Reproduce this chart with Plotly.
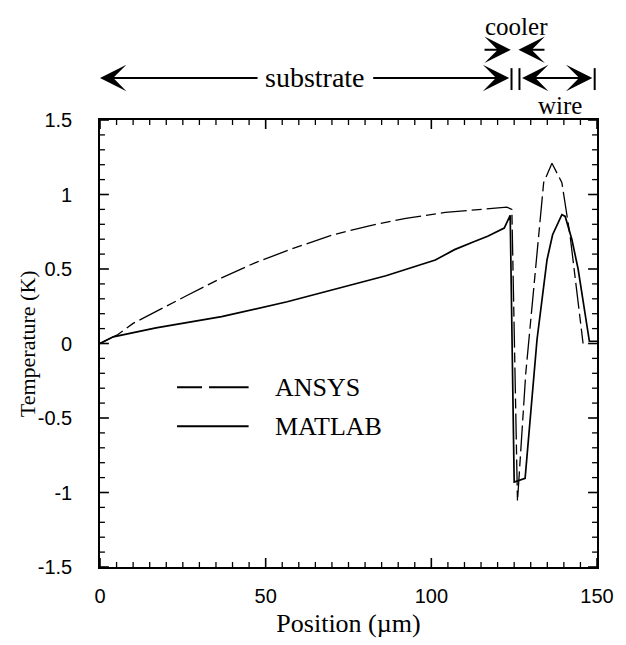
import plotly.graph_objects as go

# ANSYS (dashed) series
ansys_x = [0, 5.4, 10, 16.9, 25.8, 36.7, 46.6, 58.5, 70.4, 81.3, 92.3, 104.2, 114, 122.8, 124.3, 126, 128.5, 131.4, 133.9, 136.4, 139.4, 141.9, 143.6, 145.8]
ansys_t = [0, 0.06, 0.135, 0.216, 0.317, 0.44, 0.54, 0.64, 0.73, 0.79, 0.84, 0.88, 0.90, 0.915, 0.90, -1.06, -0.2, 0.47, 1.08, 1.21, 1.08, 0.72, 0.40, 0.0]

# MATLAB (solid) series
matlab_x = [0, 4, 16.9, 36.7, 56.5, 71.4, 86.3, 101.2, 107, 113, 117, 122, 123.8, 125, 128.3, 131.9, 134.9, 136.6, 139.4, 140.4, 142.4, 144.3, 147.7, 150]
matlab_t = [0, 0.045, 0.105, 0.18, 0.28, 0.37, 0.455, 0.56, 0.63, 0.685, 0.72, 0.775, 0.86, -0.93, -0.905, 0.027, 0.56, 0.73, 0.865, 0.853, 0.70, 0.50, 0.015, 0.015]

x_ticks = [0, 50, 100, 150]
x_ticktext = ["0", "50", "100", "150"]
y_ticks = [-1.5, -1, -0.5, 0, 0.5, 1, 1.5]
y_ticktext = ["-1.5", "-1", "-0.5", "0", "0.5", "1", "1.5"]
x_minor_step = 5
y_minor_step = 0.1

serif = "Liberation Serif, Times New Roman, serif"
sans = "Liberation Sans, Arial, sans-serif"

W, H = 626, 645
ML, MR, MT, MB = 100, 24, 120, 77
PW, PH = W - ML - MR, H - MT - MB

fig = go.Figure()
# ANSYS drawn on the overlaid (top/right) axes, which share exactly the same ranges
fig.add_trace(go.Scatter(x=ansys_x, y=ansys_t, mode="lines", name="ANSYS",
                         xaxis="x2", yaxis="y2",
                         line=dict(color="black", width=1.3, dash="26px,5px,10px,5px")))
fig.add_trace(go.Scatter(x=matlab_x, y=matlab_t, mode="lines", name="MATLAB",
                         line=dict(color="black", width=1.7)))

base = dict(showgrid=False, zeroline=False, ticks="", showline=True, linecolor="black", linewidth=1.6)

fig.update_layout(
    xaxis=dict(range=[0, 150], tickmode="array", tickvals=x_ticks, ticktext=x_ticktext,
               tickfont=dict(family=sans, size=20, color="black"),
               title=dict(text="Position (µm)", font=dict(family=serif, size=26, color="black"), standoff=8),
               ticklabelstandoff=10, **base),
    yaxis=dict(range=[-1.5, 1.5], tickmode="array", tickvals=y_ticks, ticktext=y_ticktext,
               tickfont=dict(family=sans, size=20, color="black"),
               ticklabelstandoff=22, **base),
    xaxis2=dict(range=[0, 150], overlaying="x", side="top", anchor="y2",
                showticklabels=False, **base),
    yaxis2=dict(range=[-1.5, 1.5], overlaying="y", side="right", anchor="x2",
                showticklabels=False, **base),
)

shapes = []
# Tick marks on all four sides (inside), placed at axis values
def is_major(v, majors):
    return any(abs(v - m) < 1e-6 for m in majors)

n_x = int(round(150 / x_minor_step))
for i in range(n_x + 1):
    v = i * x_minor_step
    major = is_major(v, x_ticks)
    frac = (9 if major else 5) / PH
    for y0, y1 in [(0, frac), (1, 1 - frac)]:
        shapes.append(dict(type="line", xref="x", yref="paper", x0=v, x1=v, y0=y0, y1=y1,
                           line=dict(color="black", width=1.6 if major else 1.3)))
n_y = int(round(3 / y_minor_step))
for i in range(n_y + 1):
    v = -1.5 + i * y_minor_step
    major = is_major(v, y_ticks)
    frac = (9 if major else 5) / PW
    for x0, x1 in [(0, frac), (1, 1 - frac)]:
        shapes.append(dict(type="line", xref="paper", yref="y", x0=x0, x1=x1, y0=v, y1=v,
                           line=dict(color="black", width=1.6 if major else 1.3)))

# Legend drawn manually
shapes.append(dict(type="line", xref="paper", yref="paper", x0=0.155, x1=0.299, y0=0.402, y1=0.402,
                   line=dict(color="black", width=2, dash="25px,7px,40px,7px")))
shapes.append(dict(type="line", xref="paper", yref="paper", x0=0.155, x1=0.299, y0=0.315, y1=0.315,
                   line=dict(color="black", width=2)))

# Region bars above the plot
for bx in [-1.2, 124.2, 126.6, 149.3]:
    shapes.append(dict(type="line", xref="x", yref="paper", x0=bx, x1=bx, y0=1.067, y1=1.116,
                       line=dict(color="black", width=2)))

annotations = [
    dict(x=-0.1454, y=0.5, xref="paper", yref="paper", text="Temperature (K)", textangle=-90,
         showarrow=False, xanchor="center", yanchor="middle",
         font=dict(family=serif, size=22, color="black")),
    dict(x=0.349, y=0.402, xref="paper", yref="paper", text="ANSYS", showarrow=False,
         xanchor="left", yanchor="middle", font=dict(family=serif, size=26, color="black")),
    dict(x=0.349, y=0.315, xref="paper", yref="paper", text="MATLAB", showarrow=False,
         xanchor="left", yanchor="middle", font=dict(family=serif, size=26, color="black")),
    dict(x=64.9, y=1.094, xref="x", yref="paper", text="substrate", showarrow=False,
         xanchor="center", yanchor="middle", font=dict(family=serif, size=28, color="black")),
    dict(x=125.6, y=1.21, xref="x", yref="paper", text="cooler", showarrow=False,
         xanchor="center", yanchor="middle", font=dict(family=serif, size=25, color="black")),
    dict(x=138.7, y=1.033, xref="x", yref="paper", text="wire", showarrow=False,
         xanchor="center", yanchor="middle", font=dict(family=serif, size=25, color="black")),
]

def harrow(tip, tail, y):
    return dict(x=tip, y=y, xref="x", yref="paper", ax=tail, axref="x", ay=0, ayref="pixel",
                text="", showarrow=True, arrowhead=3, arrowsize=2.2, arrowwidth=2, arrowcolor="black")

annotations += [
    harrow(0.0, 48, 1.094),
    harrow(123.5, 82, 1.094),
    harrow(127.4, 139, 1.094),
    harrow(148.6, 138, 1.094),
    harrow(124.0, 115.6, 1.157),
    harrow(126.3, 134.6, 1.157),
]

fig.update_layout(width=W, height=H, margin=dict(l=ML, r=MR, t=MT, b=MB),
                  plot_bgcolor="white", paper_bgcolor="white", showlegend=False,
                  shapes=shapes, annotations=annotations)

fig.write_html("out.html", config={"displayModeBar": False},
               post_script="document.body.style.margin='0px';")
